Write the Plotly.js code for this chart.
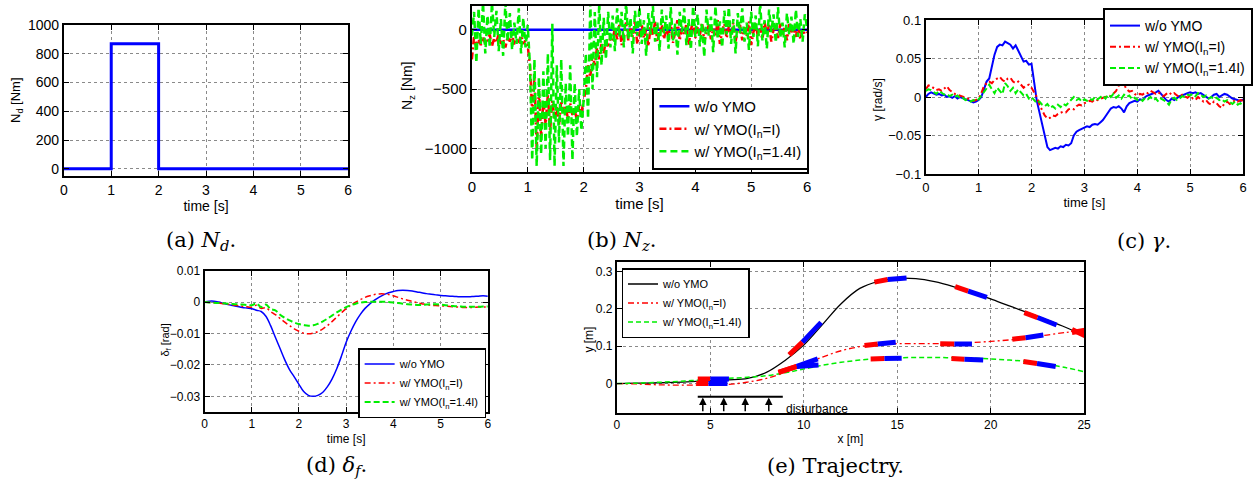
<!DOCTYPE html>
<html>
<head>
<meta charset="utf-8">
<script src="https://cdn.plot.ly/plotly-3.0.1.min.js"></script>
<style>html,body{margin:0;padding:0;background:#fff;}#fig{width:1253px;height:483px;}</style>
</head>
<body>
<div id="fig"></div>
<script>
// ---------------- DATA ----------------
// (a) disturbance yaw moment N_d (step)
const ndTime = [0, 1, 2, 6];
const ndValue = [0, 870, 0, 0];

// (b) yaw moment N_z, sampled every 0.04 s from 0 to 6 s
const nzBlueTime = [0, 6];
const nzBlue = [0, 0];
const nzRedPre  = [-250,-50,-150,-80,-130,-60,-120,-90,-40,-140,-70,-110,-30,-120,-80,-150,-60,-100,-40,-130,-80,-100,-50,-120,-90,-140];
const nzRedDist = [-300,-700,-400,-1000,-500,-900,-600,-800,-550,-850,-600,-750,-650,-800,-600,-700,-650,-750,-620,-720,-680,-760,-640,-700,-600];
const nzRedRec  = [-500,-300,-400,-200,-300,-150,-250,-120,-200,-80,-150,-60];
const nzRedPost = [-100,20,-80,40,-130,-20,60,-90,10,-60,80,-120,-30,50,-70,0,-140,30,-50,70,-100,-10,40,-80,20,-60,60,-110,-20,80,-90,10,-40,50,-130,0,70,-70,20,-50,60,-100,-30,40,-80,10,-60,80,-120,-10,50,-70,30,-40,60,-100,0,40,-90,20,-50,70,-130,-20,50,-60,10,-80,60,-30,40,-100,0,30,-70,50,-40,20,-90,60,-20,10,-60,40,-80,0,-40,-20];
const nzGreenPre  = [-50,150,-280,180,-120,230,-200,120,-150,230,-60,160,-180,90,-220,230,-100,140,-170,60,-120,180,-200,100,-150,40];
const nzGreenDist = [-300,-1100,-250,-1150,-400,-1050,-350,-1000,-200,-1100,50,-1150,-300,-950,-250,-1150,-450,-900,-300,-1100,-450,-900,-500,-850,-600];
const nzGreenRec  = [-200,-750,230,-500,150,-400,230,-300,100,-250,150,-150];
const nzGreenPost = [120,-180,180,-60,150,-150,230,-80,100,-200,160,-50,190,-120,80,-220,140,-40,200,-100,60,-180,170,-30,120,-160,190,-90,50,-210,150,-20,180,-130,90,-170,200,-60,130,-140,60,-230,170,-50,110,-190,200,-80,70,-150,160,-40,190,-120,90,-200,140,-30,180,-100,60,-170,150,-60,120,-140,230,-90,80,-160,170,-20,130,-110,190,-70,60,-150,140,-40,110,-120,170,-60,90,-100,130,20];

// (c) yaw rate gamma, sampled every 0.05 s
const gamBlue = [0.000,0.004,0.006,0.005,0.003,0.004,0.002,0.003,0.000,0.001,
 -0.001,0.001,-0.002,0.000,-0.002,-0.003,-0.004,-0.006,-0.007,-0.006,
 -0.004,0.000,0.010,0.020,0.024,0.040,0.055,0.065,0.068,0.067,
 0.072,0.070,0.068,0.063,0.067,0.060,0.052,0.046,0.047,0.042,
 0.043,0.020,-0.005,-0.020,-0.035,-0.050,-0.065,-0.069,-0.068,-0.066,
 -0.067,-0.064,-0.065,-0.062,-0.063,-0.060,-0.050,-0.045,-0.043,-0.041,
 -0.040,-0.038,-0.039,-0.036,-0.035,-0.036,-0.033,-0.030,-0.025,-0.020,
 -0.015,-0.013,-0.014,-0.012,-0.015,-0.020,-0.012,-0.008,-0.006,-0.005,
 -0.006,-0.003,-0.004,0.000,0.002,0.003,0.005,0.006,0.008,0.004,
 0.000,-0.004,-0.006,-0.002,-0.004,-0.001,0.001,0.002,0.004,0.005,
 0.006,0.005,0.006,0.004,0.005,0.003,0.001,-0.002,0.000,0.003,
 0.004,0.000,0.002,0.004,0.003,0.000,-0.002,-0.003,-0.004,-0.005,
 -0.003];
const gamRed = [0.010,0.015,0.014,0.012,0.009,0.010,0.008,0.011,0.014,0.009,
 0.006,0.004,0.003,0.002,0.001,-0.001,-0.002,-0.004,-0.005,-0.004,
 -0.002,0.005,0.014,0.018,0.020,0.018,0.022,0.024,0.026,0.022,
 0.020,0.024,0.025,0.020,0.018,0.020,0.016,0.012,0.015,0.016,
 0.012,0.006,0.000,-0.010,-0.018,-0.024,-0.028,-0.027,-0.024,-0.025,
 -0.022,-0.021,-0.019,-0.020,-0.016,-0.015,-0.016,-0.012,-0.010,-0.011,
 -0.008,-0.007,-0.005,-0.006,-0.003,-0.004,-0.002,-0.001,0.000,0.002,
 0.001,0.004,0.008,0.015,0.022,0.016,0.010,0.007,0.008,0.004,
 0.002,0.004,0.003,0.006,0.005,0.008,0.006,0.004,0.006,0.003,
 0.001,0.004,0.006,0.003,0.005,0.002,0.000,0.003,0.001,-0.001,
 0.002,-0.002,-0.004,0.000,-0.003,-0.006,-0.004,-0.008,-0.010,-0.006,
 -0.008,-0.012,-0.014,-0.008,-0.006,-0.009,-0.007,-0.004,-0.006,-0.004,
 -0.005];
const gamGreen = [0.008,0.010,0.009,0.006,0.004,0.008,0.006,0.003,0.004,0.001,
 0.003,0.000,0.002,-0.002,-0.001,-0.004,-0.003,-0.006,-0.004,-0.005,
 -0.003,0.002,0.006,0.012,0.016,0.010,0.005,0.012,0.008,0.004,
 0.018,0.014,0.008,0.012,0.005,0.010,0.006,0.002,0.004,-0.002,
 0.000,-0.004,-0.008,-0.006,-0.010,-0.012,-0.009,-0.014,-0.012,-0.015,
 -0.010,-0.013,-0.009,-0.011,-0.007,-0.004,0.000,-0.004,-0.002,-0.006,
 -0.003,-0.005,-0.002,-0.004,0.000,-0.003,-0.001,0.002,-0.002,0.003,
 0.000,0.004,-0.001,0.002,-0.002,0.003,0.000,0.002,-0.003,-0.001,
 -0.004,-0.002,-0.005,-0.001,-0.003,0.000,-0.004,-0.002,-0.006,-0.002,
 -0.004,-0.006,-0.010,-0.003,-0.001,-0.004,-0.002,0.001,0.000,0.003,
 0.002,0.004,0.001,0.005,0.003,0.000,0.002,-0.002,0.000,-0.003,
 -0.001,-0.004,-0.003,-0.006,-0.004,-0.007,-0.009,-0.006,-0.010,-0.008,
 -0.012];

// (d) steering angle delta_f, sampled every 0.1 s
const delBlue = [0,0.0003,0.0003,0.0,-0.0004,-0.0008,-0.0011,-0.0014,-0.0017,-0.0019,
 -0.0021,-0.0026,-0.0030,-0.0045,-0.0075,-0.0112,-0.0148,-0.0184,-0.0215,-0.0238,
 -0.0262,-0.0285,-0.0297,-0.0300,-0.0297,-0.0288,-0.0270,-0.0245,-0.0212,-0.0172,
 -0.0128,-0.0093,-0.0063,-0.0039,-0.0020,-0.0006,0.0006,0.0016,0.0024,0.0030,
 0.0034,0.0037,0.0038,0.0037,0.0035,0.0032,0.0030,0.0027,0.0025,0.0023,
 0.0021,0.0020,0.0019,0.0018,0.0017,0.0017,0.0017,0.0018,0.0019,0.0020,
 0.0019];
const delRed = [0,-0.0001,-0.0002,-0.0003,-0.0005,-0.0007,-0.0009,-0.0011,-0.0013,-0.0015,
 -0.0016,-0.0010,-0.0020,-0.0018,-0.0030,-0.0040,-0.0052,-0.0064,-0.0075,-0.0085,
 -0.0093,-0.0099,-0.0101,-0.0099,-0.0094,-0.0086,-0.0075,-0.0062,-0.0048,-0.0034,
 -0.0021,-0.0010,0.0000,0.0008,0.0015,0.0020,0.0024,0.0026,0.0026,0.0024,
 0.0020,0.0015,0.0010,0.0006,0.0002,-0.0002,-0.0005,-0.0008,-0.0010,-0.0011,
 -0.0012,-0.0013,-0.0014,-0.0015,-0.0016,-0.0017,-0.0017,-0.0017,-0.0016,-0.0016,
 -0.0016];
const delGreen = [0,-0.0001,-0.0002,-0.0003,-0.0004,-0.0005,-0.0006,-0.0007,-0.0008,-0.0009,
 -0.0010,-0.0004,-0.0016,-0.0008,-0.0022,-0.0026,-0.0040,-0.0050,-0.0058,-0.0065,
 -0.0070,-0.0073,-0.0075,-0.0074,-0.0069,-0.0062,-0.0053,-0.0043,-0.0033,-0.0024,
 -0.0016,-0.0010,-0.0005,-0.0002,0.0000,0.0001,0.0001,0.0001,0.0001,0.0000,
 -0.0001,-0.0003,-0.0005,-0.0007,-0.0008,-0.0009,-0.0009,-0.0008,-0.0007,-0.0007,
 -0.0008,-0.0010,-0.0012,-0.0013,-0.0014,-0.0015,-0.0015,-0.0015,-0.0015,-0.0014,
 -0.0014];

// (e) trajectory, x every 1 m
const trajX = [0,1,2,3,4,5,6,7,8,9,10,11,12,13,14,15,16,17,18,19,20,21,22,23,24,25];
const trajBlack = [0,0.001,0.002,0.003,0.005,0.008,0.010,0.014,0.030,0.062,0.103,0.158,0.214,0.255,0.274,0.282,0.281,0.273,0.260,0.244,0.227,0.208,0.190,0.171,0.151,0.128];
const trajRed   = [0,-0.001,-0.003,-0.004,-0.004,-0.003,-0.002,0.004,0.014,0.030,0.050,0.071,0.088,0.099,0.105,0.107,0.107,0.107,0.108,0.110,0.113,0.117,0.122,0.130,0.137,0.142];
const trajGreen = [0,0.001,0.003,0.005,0.008,0.011,0.014,0.017,0.021,0.029,0.039,0.049,0.057,0.063,0.067,0.069,0.070,0.070,0.069,0.068,0.066,0.063,0.059,0.052,0.043,0.032];
// vehicle snapshots: rear (red part) -> mid -> front (blue part)
const carRearX  = [4.33,4.25,9.22,8.65,8.65,13.78,18.1,21.8,24.35,13.25,17.3,21.16,24.35,13.58,17.9,21.75];
const carRearY  = [0.0125,0.0,0.077,0.030,0.030,0.272,0.260,0.190,0.145,0.102,0.107,0.119,0.137,0.066,0.067,0.059];
const carMidX   = [5.0,4.9,9.93,9.63,9.63,14.49,18.8,22.51,25.05,13.96,18.06,21.87,25.05,14.32,18.6,22.48];
const carMidY   = [0.0125,0.0,0.111,0.046,0.046,0.279,0.248,0.177,0.128,0.106,0.106,0.123,0.143,0.067,0.065,0.054];
const carFrontX = [6.0,5.92,10.93,10.75,10.79,15.5,19.8,23.53,26.0,14.92,19.0,22.82,26.0,15.24,19.6,23.48];
const carFrontY = [0.0125,0.0,0.164,0.066,0.050,0.283,0.231,0.157,0.105,0.111,0.106,0.130,0.150,0.068,0.063,0.046];
// disturbance region
const distBarX = [4.33, 8.88];
const distLevel = -0.035;
const distArrowX = [4.6, 5.72, 6.87, 8.13];

const names = ['w/o YMO', 'w/ YMO(I<sub>n</sub>=I)', 'w/ YMO(I<sub>n</sub>=1.4I)'];

// ---------------- HELPERS ----------------
const W = 1253, H = 483;
const SANS = 'Liberation Sans, Arial, Helvetica, sans-serif';
const SERIF = 'DejaVu Serif, Liberation Serif, serif';
const BLUE = '#0000ff', RED = '#ff0000', GREEN = '#00ee00';
function timeOf(arr, tEnd) { return arr.map((_, i) => i * tEnd / (arr.length - 1)); }
function dom(a, b) { return [a / W, b / W]; }
function domY(top, bottom) { return [1 - bottom / H, 1 - top / H]; }
function axis(o) {
  return {
    domain: o.domain, range: o.range, dtick: o.dtick, tick0: 0, anchor: o.anchor,
    showline: true, linecolor: '#000', linewidth: 2, mirror: 'ticks',
    ticks: 'inside', ticklen: 5, tickwidth: 1, tickcolor: '#000',
    showgrid: true, gridcolor: '#8a8a8a', griddash: 'dot', gridwidth: 1,
    zeroline: false, automargin: false, fixedrange: true,
    tickfont: { family: SANS, size: o.fs, color: '#000' },
    title: o.title ? { text: o.title, font: { family: SANS, size: o.fs, color: '#000' }, standoff: 4 } : { text: '' }
  };
}
function legendBox(x, y, fs, bw) {
  return { x: x / W, y: 1 - y / H, xanchor: 'left', yanchor: 'top', bgcolor: '#fff',
    bordercolor: '#000', borderwidth: bw, font: { family: SANS, size: fs, color: '#000' },
    tracegroupgap: 0 };
}

const nzRed = nzRedPre.concat(nzRedDist, nzRedRec, nzRedPost);
const nzGreen = nzGreenPre.concat(nzGreenDist, nzGreenRec, nzGreenPost);

const traces = [];
// (a)
traces.push({ x: ndTime, y: ndValue, xaxis: 'x', yaxis: 'y', mode: 'lines', line: { color: BLUE, width: 3, shape: 'hv' }, showlegend: false });
// (b)
traces.push({ x: nzBlueTime, y: nzBlue, xaxis: 'x2', yaxis: 'y2', mode: 'lines', name: names[0], legend: 'legend', line: { color: BLUE, width: 2.5 } });
traces.push({ x: timeOf(nzRed, 6), y: nzRed, xaxis: 'x2', yaxis: 'y2', mode: 'lines', name: names[1], legend: 'legend', line: { color: RED, width: 2.5, dash: '7px,3px,2px,3px' } });
traces.push({ x: timeOf(nzGreen, 6), y: nzGreen, xaxis: 'x2', yaxis: 'y2', mode: 'lines', name: names[2], legend: 'legend', line: { color: GREEN, width: 2.5, dash: '7px,4px' } });
// (c)
traces.push({ x: timeOf(gamBlue, 6), y: gamBlue, xaxis: 'x3', yaxis: 'y3', mode: 'lines', name: names[0], legend: 'legend2', line: { color: BLUE, width: 2 } });
traces.push({ x: timeOf(gamRed, 6), y: gamRed, xaxis: 'x3', yaxis: 'y3', mode: 'lines', name: names[1], legend: 'legend2', line: { color: RED, width: 2, dash: '6px,3px,2px,3px' } });
traces.push({ x: timeOf(gamGreen, 6), y: gamGreen, xaxis: 'x3', yaxis: 'y3', mode: 'lines', name: names[2], legend: 'legend2', line: { color: GREEN, width: 2, dash: '6px,3px' } });
// (d)
traces.push({ x: timeOf(delBlue, 6), y: delBlue, xaxis: 'x4', yaxis: 'y4', mode: 'lines', name: names[0], legend: 'legend3', line: { color: BLUE, width: 1.5, shape: 'spline' } });
traces.push({ x: timeOf(delRed, 6), y: delRed, xaxis: 'x4', yaxis: 'y4', mode: 'lines', name: names[1], legend: 'legend3', line: { color: RED, width: 1.5, dash: '6px,3px,2px,3px', shape: 'spline' } });
traces.push({ x: timeOf(delGreen, 6), y: delGreen, xaxis: 'x4', yaxis: 'y4', mode: 'lines', name: names[2], legend: 'legend3', line: { color: GREEN, width: 2, dash: '6px,3px', shape: 'spline' } });
// (e)
traces.push({ x: trajX, y: trajBlack, xaxis: 'x5', yaxis: 'y5', mode: 'lines', name: names[0], legend: 'legend4', line: { color: '#000', width: 1.3, shape: 'spline' } });
traces.push({ x: trajX, y: trajRed, xaxis: 'x5', yaxis: 'y5', mode: 'lines', name: names[1], legend: 'legend4', line: { color: RED, width: 1.3, dash: '6px,3px,2px,3px', shape: 'spline' } });
traces.push({ x: trajX, y: trajGreen, xaxis: 'x5', yaxis: 'y5', mode: 'lines', name: names[2], legend: 'legend4', line: { color: GREEN, width: 1.5, dash: '5px,3px', shape: 'spline' } });
// vehicle snapshots
const rx = [], ry = [], bx = [], by = [];
carRearX.forEach((_, i) => {
  rx.push(carRearX[i], carMidX[i], null); ry.push(carRearY[i], carMidY[i], null);
  bx.push(carMidX[i], carFrontX[i], null); by.push(carMidY[i], carFrontY[i], null);
});
traces.push({ x: rx, y: ry, xaxis: 'x5', yaxis: 'y5', mode: 'lines', line: { color: RED, width: 5 }, showlegend: false, connectgaps: false });
traces.push({ x: bx, y: by, xaxis: 'x5', yaxis: 'y5', mode: 'lines', line: { color: BLUE, width: 5 }, showlegend: false, connectgaps: false });
traces.push({ x: distBarX, y: [distLevel, distLevel], xaxis: 'x5', yaxis: 'y5', mode: 'lines', line: { color: '#000', width: 2 }, showlegend: false });

const eYRange = [-0.078, 0.325];
const annotations = distArrowX.map(xv => ({
  x: xv, y: distLevel - 0.002, ax: xv, ay: eYRange[0], xref: 'x5', yref: 'y5', axref: 'x5', ayref: 'y5',
  text: '', showarrow: true, arrowhead: 2, arrowsize: 1, arrowwidth: 1.5, arrowcolor: '#000', standoff: 0, startstandoff: 0
}));
annotations.push({ x: 8.95, y: -0.068, xref: 'x5', yref: 'y5', text: 'disturbance', showarrow: false, xanchor: 'left', yanchor: 'middle', font: { family: SANS, size: 12, color: '#000' } });
// captions
const caps = [
  ['(a) <i>N</i><sub><i>d</i></sub>.', 201, 241],
  ['(b) <i>N</i><sub><i>z</i></sub>.', 623, 241],
  ['(c) <i>γ</i>.', 1147, 241],
  ['(d) <i>δ</i><sub><i>f</i></sub>.', 337, 466],
  ['(e) Trajectry.', 838, 466]
];
caps.forEach(c => annotations.push({ x: c[1] / W, y: 1 - c[2] / H, xref: 'paper', yref: 'paper', text: c[0], showarrow: false, xanchor: 'center', yanchor: 'middle', font: { family: SERIF, size: 21, color: '#000' } }));
// y-axis titles placed like the reference
const yTitles = [
  ['N<sub>d</sub> [Nm]', 17, 100, 13],
  ['N<sub>z</sub> [Nm]', 409, 86, 14],
  ['γ [rad/s]', 880, 99, 12],
  ['δ<sub>f</sub> [rad]', 166, 340, 11],
  ['y [m]', 590, 340, 12]
];
yTitles.forEach(t => annotations.push({ x: t[1] / W, y: 1 - t[2] / H, xref: 'paper', yref: 'paper', text: t[0], textangle: -90, showarrow: false, xanchor: 'center', yanchor: 'middle', font: { family: SANS, size: t[3], color: '#000' } }));

const layout = {
  width: W, height: H, margin: { l: 0, r: 0, t: 0, b: 0 }, paper_bgcolor: '#fff', plot_bgcolor: '#fff',
  showlegend: true,
  xaxis:  axis({ domain: dom(64, 349), range: [0, 6], dtick: 1, anchor: 'y', fs: 14, title: 'time [s]' }),
  yaxis:  axis({ domain: domY(25, 176), range: [-50, 1000], dtick: 200, anchor: 'x', fs: 14 }),
  xaxis2: axis({ domain: dom(473, 809), range: [0, 6], dtick: 1, anchor: 'y2', fs: 15, title: 'time [s]' }),
  yaxis2: axis({ domain: domY(6, 172), range: [-1200, 200], dtick: 500, anchor: 'x2', fs: 15 }),
  xaxis3: axis({ domain: dom(928, 1246), range: [0, 6], dtick: 1, anchor: 'y3', fs: 13, title: 'time [s]' }),
  yaxis3: axis({ domain: domY(20, 174), range: [-0.1, 0.1], dtick: 0.05, anchor: 'x3', fs: 13 }),
  xaxis4: axis({ domain: dom(205, 489), range: [0, 6], dtick: 1, anchor: 'y4', fs: 12, title: 'time [s]' }),
  yaxis4: axis({ domain: domY(270.7, 412), range: [-0.035, 0.01], dtick: 0.01, anchor: 'x4', fs: 12 }),
  xaxis5: axis({ domain: dom(618.3, 1086.7), range: [0, 25], dtick: 5, anchor: 'y5', fs: 12, title: 'x [m]' }),
  yaxis5: axis({ domain: domY(262.3, 412.7), range: eYRange, dtick: 0.1, anchor: 'x5', fs: 12 }),
  legend:  legendBox(654, 88, 15, 2),
  legend2: legendBox(1106, 8, 14, 2),
  legend3: legendBox(359, 348, 11, 1.5),
  legend4: legendBox(623, 268, 11, 1.5),
  annotations: annotations
};

Plotly.newPlot('fig', traces, layout, { displayModeBar: false, staticPlot: true });
</script>
</body>
</html>
